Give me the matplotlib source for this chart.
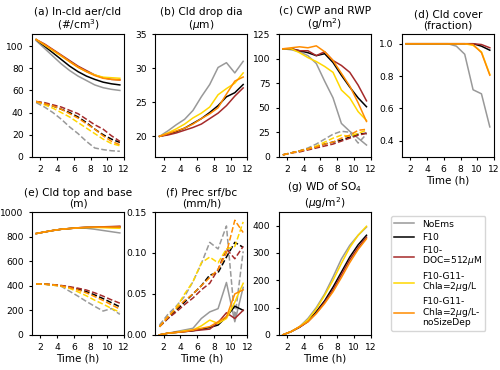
import numpy as np
import matplotlib
matplotlib.use("Agg")
import matplotlib.pyplot as plt

# hourly output, centred on the half hour
time = np.arange(1.5, 12.0, 1.0)

runs = ["NoEms", "F10", "F10-\nDOC=512$\\mu$M", "F10-G11-\nChla=2$\\mu$g/L",
        "F10-G11-\nChla=2$\\mu$g/L-\nnoSizeDep"]
colors = ["#999999", "black", "#a52a2a", "gold", "darkorange"]

# rows follow the order of runs
aer_incld = [
    [105, 98, 91, 84, 78, 73, 69, 65, 62.5, 61, 60],
    [106, 100, 94, 88, 82, 77, 73, 70, 67.5, 66, 65],
    [106, 102, 97, 92, 87, 82, 78, 74, 71.5, 70, 69.5],
    [106, 101, 96, 91, 86, 81, 77, 74, 72, 71.5, 71],
    [106, 101.5, 96.5, 91.5, 86, 81, 77, 73.5, 71, 70, 69.5],
]
cld_num = [
    [49, 45, 40, 34, 27, 21, 14, 8, 6.5, 5.5, 5],
    [50, 48, 46, 43, 40, 36, 31, 25, 20, 16, 13],
    [50, 49, 47, 45, 42, 39, 34, 29, 25, 19, 14],
    [50, 47, 44, 40, 36, 31, 26, 21, 16, 12, 10],
    [50, 48, 46, 43, 39, 35, 30, 25, 19, 14, 11],
]
drop_dia = [
    [20, 20.8, 21.7, 22.5, 23.8, 25.8, 27.6, 30.1, 30.8, 29.3, 31],
    [20, 20.3, 20.7, 21.2, 21.9, 22.6, 23.5, 24.5, 25.8, 26.4, 27.6],
    [20, 20.2, 20.5, 20.9, 21.3, 21.8, 22.6, 23.4, 24.5, 25.9, 27.1],
    [20, 20.5, 21.1, 21.8, 22.7, 23.4, 24.3, 26.1, 27.0, 27.8, 29.3],
    [20, 20.4, 20.8, 21.2, 21.8, 22.6, 23.3, 24.2, 26.2, 28.1, 28.7],
]
cwp = [
    [110, 109, 107, 103, 95, 77, 60, 34, 26, 19, 12],
    [110, 110, 108, 106, 103, 105, 96, 83, 71, 60, 51],
    [110, 110, 108, 108, 103, 107, 98, 93, 86, 73, 57],
    [110, 110, 106, 101, 97, 92, 86, 68, 60, 46, 37],
    [110, 111, 112, 111, 113, 107, 98, 85, 72, 55, 36],
]
rwp = [
    [2, 4, 6, 9, 13, 18, 23, 26, 25, 14, 23],
    [2, 4, 6, 8, 10, 13, 15, 17, 20, 23, 24],
    [2, 4, 5, 7, 9, 11, 13, 16, 19, 22, 24],
    [2, 4, 6, 8, 11, 15, 19, 22, 21, 24, 27],
    [2, 4, 6, 8, 10, 13, 15, 19, 22, 27, 28],
]
cld_cover = [
    [1, 1, 1, 1, 1, 1, 0.985, 0.935, 0.715, 0.69, 0.485],
    [1, 1, 1, 1, 1, 1, 1, 1, 1, 0.985, 0.96],
    [1, 1, 1, 1, 1, 1, 1, 1, 1, 0.995, 0.975],
    [1, 1, 1, 1, 1, 1, 1, 1, 0.99, 0.95, 0.81],
    [1, 1, 1, 1, 1, 1, 1, 1, 0.995, 0.945, 0.805],
]
cld_top = [
    [825, 838, 850, 860, 866, 870, 868, 860, 850, 840, 830],
    [825, 838, 850, 860, 866, 872, 875, 876, 877, 877, 878],
    [825, 838, 850, 860, 866, 872, 876, 878, 880, 882, 885],
    [825, 838, 850, 860, 866, 871, 874, 875, 873, 870, 868],
    [825, 838, 850, 860, 866, 872, 875, 877, 878, 878, 878],
]
cld_base = [
    [415, 412, 405, 395, 355, 315, 272, 232, 194, 214, 167],
    [415, 413, 408, 400, 388, 372, 352, 325, 295, 262, 228],
    [415, 413, 409, 402, 392, 380, 365, 342, 315, 285, 258],
    [415, 412, 405, 396, 378, 350, 318, 282, 250, 215, 185],
    [415, 413, 408, 398, 385, 365, 342, 312, 280, 245, 210],
]
prec_srf = [
    [0, 0.002, 0.004, 0.006, 0.008, 0.02, 0.028, 0.032, 0.064, 0.016, 0.058],
    [0, 0.002, 0.003, 0.004, 0.005, 0.007, 0.009, 0.012, 0.022, 0.035, 0.03],
    [0, 0.002, 0.003, 0.004, 0.005, 0.006, 0.007, 0.015, 0.027, 0.02, 0.03],
    [0, 0.002, 0.003, 0.005, 0.006, 0.011, 0.018, 0.014, 0.02, 0.04, 0.063],
    [0, 0.002, 0.003, 0.004, 0.006, 0.008, 0.01, 0.016, 0.022, 0.05, 0.055],
]
prec_bc = [
    [0.012, 0.025, 0.035, 0.047, 0.065, 0.087, 0.113, 0.105, 0.133, 0.02, 0.102],
    [0.01, 0.02, 0.03, 0.04, 0.05, 0.06, 0.073, 0.076, 0.095, 0.113, 0.107],
    [0.01, 0.02, 0.028, 0.037, 0.045, 0.055, 0.063, 0.08, 0.105, 0.093, 0.108],
    [0.01, 0.022, 0.033, 0.05, 0.065, 0.088, 0.095, 0.088, 0.105, 0.108, 0.138],
    [0.01, 0.022, 0.032, 0.042, 0.05, 0.06, 0.07, 0.08, 0.1, 0.14, 0.125],
]
wd_so4 = [
    [0, 12, 30, 60, 100, 150, 212, 278, 328, 365, 395],
    [0, 12, 28, 50, 85, 125, 175, 230, 285, 330, 365],
    [0, 12, 28, 48, 80, 120, 165, 220, 275, 320, 358],
    [0, 12, 30, 55, 95, 145, 200, 262, 320, 365, 398],
    [0, 12, 30, 48, 78, 115, 158, 210, 265, 313, 352],
]

plt.rcParams["font.size"] = 7.5
plt.rcParams["xtick.labelsize"] = 6.6
plt.rcParams["ytick.labelsize"] = 6.6
plt.rcParams["xtick.major.size"] = 2.5
plt.rcParams["ytick.major.size"] = 2.5

fig, axs = plt.subplots(2, 4, figsize=(5, 3.7), dpi=100)
fig.subplots_adjust(left=0.064, right=0.988, top=0.908, bottom=0.095,
                    wspace=0.34, hspace=0.45)

panels = [
    (axs[0, 0], aer_incld, cld_num, "(a) In-cld aer/cld\n(#/cm$^3$)", (0, 111)),
    (axs[0, 1], drop_dia, None, "(b) Cld drop dia\n($\\mu$m)", (17, 35)),
    (axs[0, 2], cwp, rwp, "(c) CWP and RWP\n(g/m$^2$)", (0, 125)),
    (axs[0, 3], cld_cover, None, "(d) Cld cover\n(fraction)", (0.3, 1.06)),
    (axs[1, 0], cld_top, cld_base, "(e) Cld top and base\n(m)", (0, 1000)),
    (axs[1, 1], prec_srf, prec_bc, "(f) Prec srf/bc\n(mm/h)", (0, 0.15)),
    (axs[1, 2], wd_so4, None, "(g) WD of SO$_4$\n($\\mu$g/m$^2$)", (0, 450)),
]

for ax, solid, dashed, title, ylim in panels:
    for i in range(len(runs)):
        ax.plot(time, solid[i], color=colors[i], lw=1.1, label=runs[i])
        if dashed is not None:
            ax.plot(time, dashed[i], color=colors[i], lw=1.1, ls="--")
    ax.set_title(title, fontsize=7.6, pad=4, linespacing=1.1)
    ax.set_ylim(ylim)
    ax.set_xticks([2, 4, 6, 8, 10, 12])

axs[0, 1].set_yticks([20, 25, 30, 35])
axs[0, 2].set_yticks([0, 25, 50, 75, 100, 125])
axs[0, 3].set_yticks([0.4, 0.6, 0.8, 1.0])
axs[1, 1].set_yticks([0, 0.05, 0.1, 0.15])
axs[1, 2].set_yticks([0, 100, 200, 300, 400])

for ax in [axs[0, 3], axs[1, 0], axs[1, 1], axs[1, 2]]:
    ax.set_xlabel("Time (h)", labelpad=1)

axs[1, 3].axis("off")
handles, labels = axs[0, 0].get_legend_handles_labels()
leg = fig.legend(handles, labels, loc="upper left", bbox_to_anchor=(0.782, 0.415),
                 borderaxespad=0, fontsize=6.6, handlelength=2.2,
                 labelspacing=0.45, borderpad=0.35)
for t in leg.get_texts():
    t.set_linespacing(0.95)

fig.savefig("out.png", dpi=100)
